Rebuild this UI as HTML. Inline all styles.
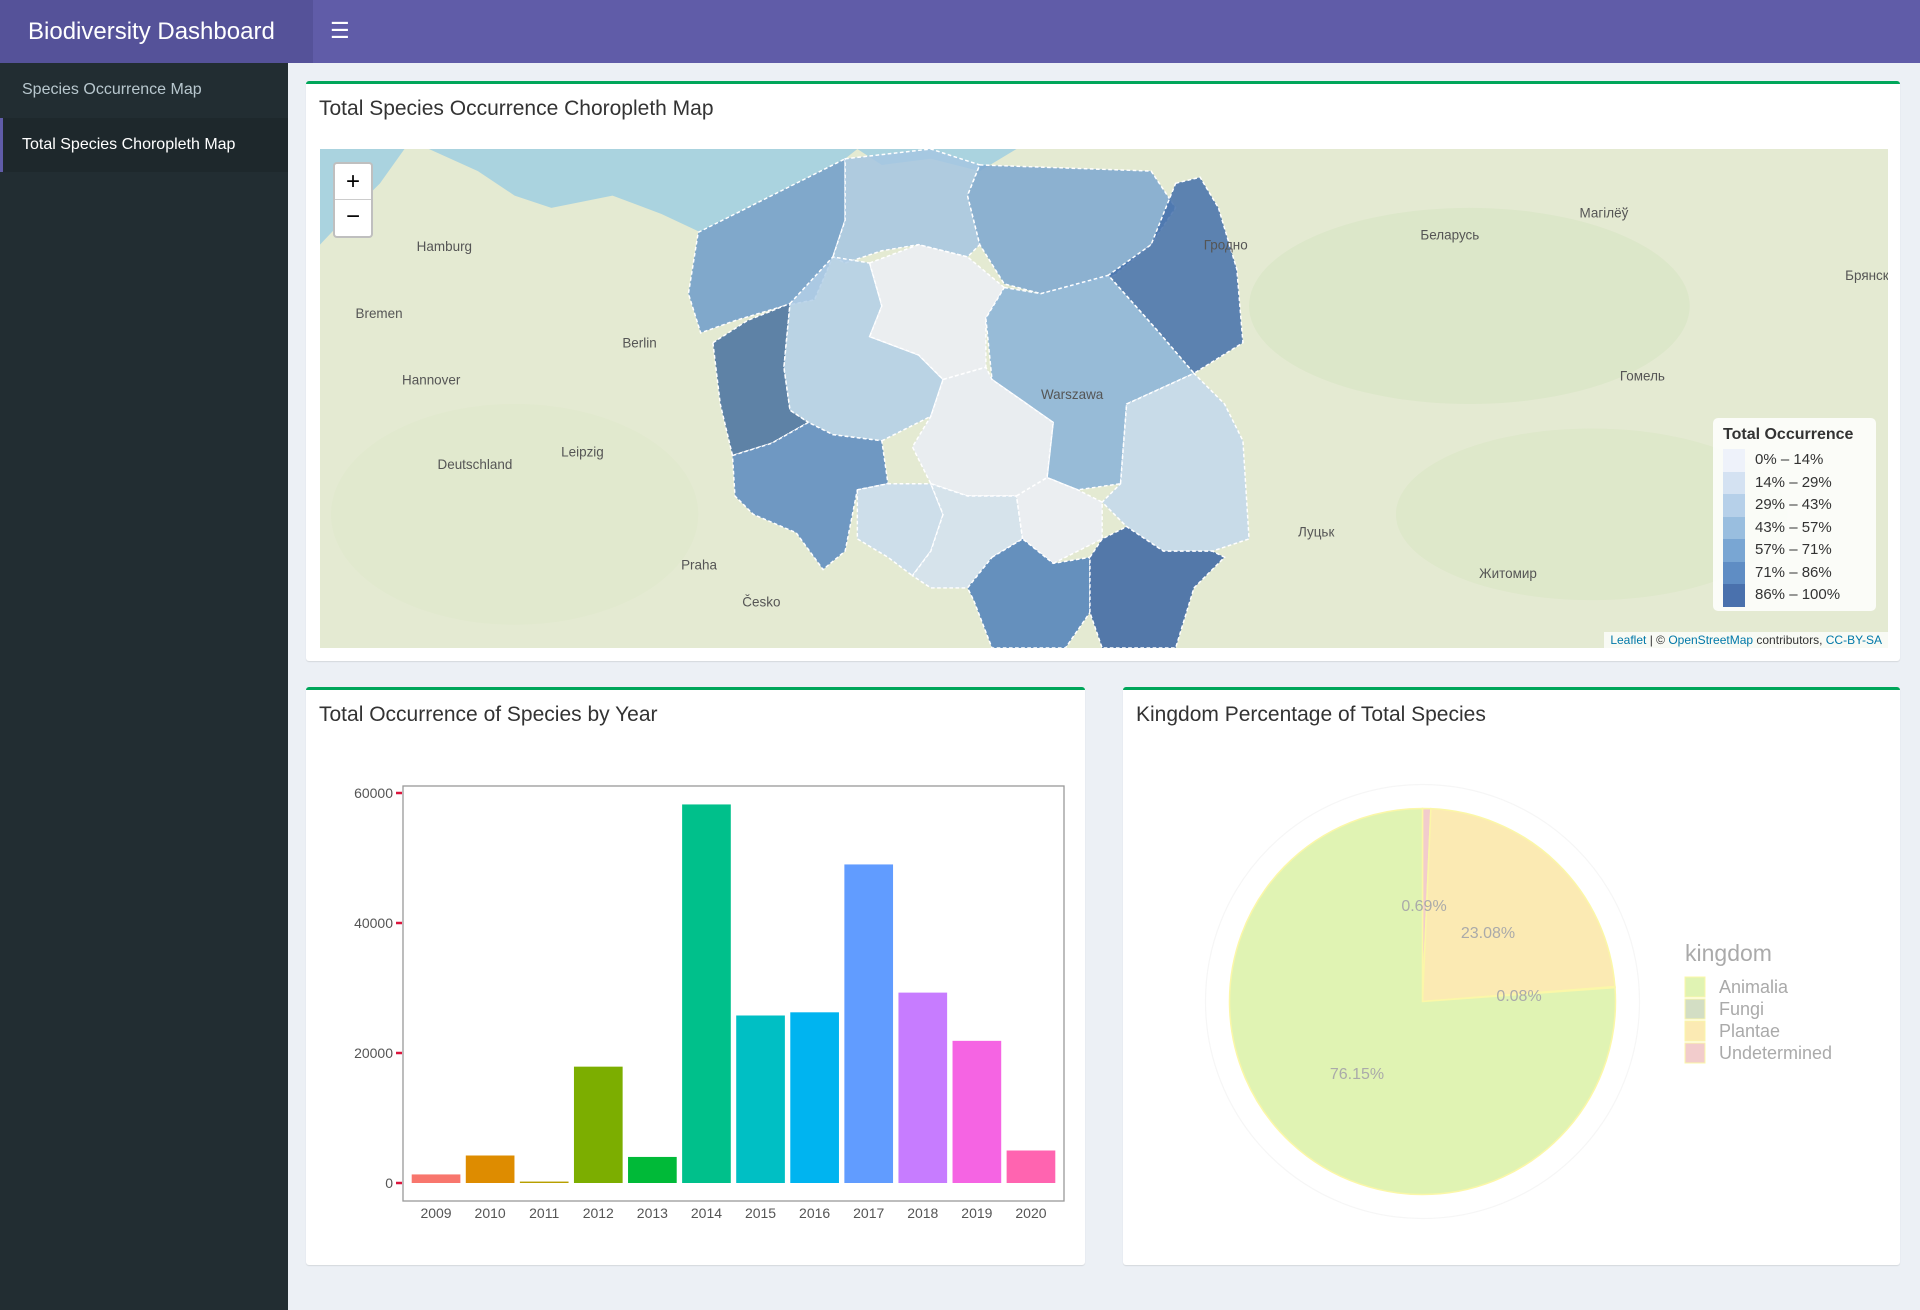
<!DOCTYPE html>
<html><head><meta charset="utf-8"><style>
*{box-sizing:border-box;margin:0;padding:0}
body{width:1920px;height:1310px;background:#ecf0f5;font-family:"Liberation Sans",sans-serif;position:relative;overflow:hidden}
.nav{position:absolute;left:0;top:0;width:1920px;height:63px;background:#605ca8}
.brand{position:absolute;left:0;top:0;width:313px;height:63px;background:#555299;color:#fff;font-size:24px;line-height:63px;padding-left:28px}
.burger{position:absolute;left:330px;top:18px;color:#fff;font-size:22px}
.side{position:absolute;left:0;top:63px;width:288px;height:1247px;background:#222d32}
.item{position:absolute;left:0;width:288px;height:54px;line-height:54px;padding-left:22px;color:#b8c7ce;font-size:16px}
.item.act{background:#1e282c;color:#fff;border-left:3px solid #605ca8;padding-left:19px}
.box{position:absolute;background:#fff;border-top:3px solid #00a65a;border-radius:3px;box-shadow:0 1px 1px rgba(0,0,0,.1)}
.box h3{position:absolute;left:13px;top:13px;font-size:21px;font-weight:normal;color:#333}
svg text{font-family:"Liberation Sans",sans-serif}
</style></head><body>
<div class="nav">
<div class="brand">Biodiversity Dashboard</div>
<div class="burger">&#9776;</div>
</div>
<div class="side">
<div class="item" style="top:0">Species Occurrence Map</div>
<div class="item act" style="top:55px">Total Species Choropleth Map</div>
</div>

<div class="box" style="left:306px;top:81px;width:1594px;height:580px">
<h3>Total Species Occurrence Choropleth Map</h3>
</div>
<div style="position:absolute;left:320px;top:149px;width:1568px;height:499px;overflow:hidden;background:#e6ebd6">
<svg width="1568" height="499" viewBox="261 122 1281 407" preserveAspectRatio="none" style="position:absolute;left:0;top:0">
<rect x="261" y="122" width="1281" height="407" fill="#e4ead2"/>
<ellipse cx="1200" cy="250" rx="180" ry="80" fill="#d9e6c4" opacity=".7"/>
<ellipse cx="420" cy="420" rx="150" ry="90" fill="#dfe8cc" opacity=".7"/>
<ellipse cx="1300" cy="420" rx="160" ry="70" fill="#dce7c6" opacity=".7"/>
<polygon points="261,122 700,122 690,130 600,175 572,190 540,175 500,160 450,170 420,160 390,140 350,122" fill="#aad3df"/>
<polygon points="261,122 330,122 310,150 280,180 261,200" fill="#aad3df"/>
<polygon points="700,122 830,122 800,140 760,130 720,135" fill="#aad3df"/>
<g stroke="#fff" stroke-width="1.2" stroke-dasharray="3,2" fill-opacity=".85">
<polygon fill="#6e9cca" points="570,190 600,175 690,130 690,180 680,210 665,245 640,250 600,262 572,272 562,240"/>
<polygon fill="#a6c5e2" points="690,130 760,122 800,135 790,160 800,200 790,210 750,200 720,205 690,215 680,210 690,180"/>
<polygon fill="#7ca7d0" points="800,135 940,140 960,170 940,200 910,225 850,240 820,232 800,200 790,160"/>
<polygon fill="#4470aa" points="960,150 980,145 995,170 1010,220 1015,280 975,305 945,270 905,225 940,200"/>
<polygon fill="#46709f" points="582,280 610,262 645,248 640,300 645,335 660,345 630,362 598,372 588,330"/>
<polygon fill="#b3cfe7" points="645,248 680,210 710,215 720,250 710,275 750,290 770,310 760,340 720,360 680,355 660,345 645,335 640,300"/>
<polygon fill="#eceff6" points="710,215 750,200 790,210 820,235 805,260 805,300 770,310 750,290 710,275 720,250"/>
<polygon fill="#8ab3d8" points="820,235 850,240 905,225 945,270 975,305 920,330 915,395 880,400 855,390 860,345 810,310 805,260"/>
<polygon fill="#eaedf6" points="770,310 805,300 810,310 860,345 855,390 830,405 790,405 760,395 745,365 760,340"/>
<polygon fill="#5a89bf" points="598,372 630,362 660,345 680,355 720,360 725,395 700,400 690,450 672,465 650,435 615,420 600,405"/>
<polygon fill="#c9dcee" points="700,400 725,395 760,395 770,420 760,450 745,470 725,455 700,440"/>
<polygon fill="#d3e2f0" points="760,395 790,405 830,405 835,440 810,455 790,480 760,480 745,470 760,450 770,420"/>
<polygon fill="#eceff7" points="830,405 855,390 880,400 900,410 900,440 860,460 835,440"/>
<polygon fill="#c3d8ec" points="915,395 920,330 975,305 1000,330 1015,360 1020,440 990,450 950,450 920,430 900,410"/>
<polygon fill="#4f80ba" points="810,455 835,440 860,460 890,455 890,500 870,529 810,529 795,490 790,480"/>
<polygon fill="#3a64a2" points="890,455 900,440 920,430 950,450 990,450 1000,455 975,480 960,529 900,529 890,500"/>
</g>
<g fill="#555" font-size="11">
<text x="340" y="205">Hamburg</text><text x="508" y="284">Berlin</text><text x="850" y="326">Warszawa</text><text x="357" y="383">Deutschland</text><text x="556" y="465">Praha</text><text x="1160" y="196">Беларусь</text><text x="1060" y="438">Луцьк</text><text x="1208" y="472">Житомир</text><text x="1323" y="311">Гомель</text><text x="1507" y="229">Брянск</text><text x="290" y="260">Bremen</text><text x="328" y="314">Hannover</text><text x="458" y="373">Leipzig</text><text x="606" y="495">Česko</text><text x="1290" y="178">Магілёў</text><text x="983" y="204">Гродно</text>
</g>
</svg>
<div style="position:absolute;left:13px;top:13px;width:40px;height:76px;background:#fff;border:2px solid rgba(0,0,0,.25);border-radius:4px">
<div style="height:36px;line-height:36px;text-align:center;font-size:24px;border-bottom:1px solid #ccc">+</div>
<div style="height:36px;line-height:34px;text-align:center;font-size:24px">−</div>
</div>
<div style="position:absolute;left:1393px;top:269px;width:163px;height:193px;background:rgba(255,255,255,.85);border-radius:5px;padding:8px 10px;color:#333">
<div style="font-weight:bold;font-size:16px;margin-bottom:5px">Total Occurrence</div>
<div id="mleg"></div>
</div>
<div style="position:absolute;right:0;bottom:0;background:rgba(255,255,255,.75);font-size:12px;padding:1px 6px;color:#333"><span style="color:#0078a8">Leaflet</span> | © <span style="color:#0078a8">OpenStreetMap</span> contributors, <span style="color:#0078a8">CC-BY-SA</span></div>
</div>

<div class="box" style="left:306px;top:687px;width:779px;height:578px">
<h3>Total Occurrence of Species by Year</h3>
</div>
<div class="box" style="left:1123px;top:687px;width:777px;height:578px">
<h3>Kingdom Percentage of Total Species</h3>
</div>
<svg id="bar" width="1920" height="1310" style="position:absolute;left:0;top:0;pointer-events:none"></svg>

<script>
const legLabels=["0% – 14%","14% – 29%","29% – 43%","43% – 57%","57% – 71%","71% – 86%","86% – 100%"];
const legColors=["#eef2fa","#d4e2f2","#b6d0e9","#99bedf","#79a6d3","#5f8dc4","#4a71ad"];
const years=["2009","2010","2011","2012","2013","2014","2015","2016","2017","2018","2019","2020"];
const counts=[1320,4230,220,17900,4010,58240,25770,26260,49010,29290,21870,5000];
const barColors=["#f8766d","#de8c00","#b79f00","#7cae00","#00ba38","#00c08b","#00bfc4","#00b4f0","#619cff","#c77cff","#f564e3","#ff64b0"];
const yTicks=[0,20000,40000,60000];
const kingdoms=["Animalia","Fungi","Plantae","Undetermined"];
const kingdomPct=[76.15,0.08,23.08,0.69];
const kingdomColors=["#e0f3b3","#d3dec4","#fbeab3","#f2cccc"];

const leg=document.getElementById('mleg');
legLabels.forEach((l,i)=>{
 const d=document.createElement('div');
 
 
 d.style.cssText='height:22.5px;line-height:22.5px;font-size:15px;display:flex;align-items:center';
 d.innerHTML='<span style="display:inline-block;width:22px;height:22.5px;background:'+legColors[i]+';margin-right:10px"></span>'+l;
 leg.appendChild(d);
});

const NS='http://www.w3.org/2000/svg';
const svg=document.getElementById('bar');
function mk(t,a,p){const e=document.createElementNS(NS,t);for(const k in a)e.setAttribute(k,a[k]);(p||svg).appendChild(e);return e;}
const fx0=403,fx1=1064,fy0=786,fy1=1201,y0px=1183,perU=(1183-793)/60000;
const Y=v=>y0px-v*perU;
const bx0=fx0+6,bx1=fx1-6;
const step=(bx1-bx0)/years.length, bw=step*0.9;
const frame=mk('rect',{x:fx0,y:fy0,width:fx1-fx0,height:fy1-fy0,fill:'none',stroke:'#999','stroke-width':1.3});


yTicks.forEach(t=>{
 const tk=mk('line',{x1:fx0-7,x2:fx0-1,y1:Y(t),y2:Y(t),stroke:'#dc143c','stroke-width':2.5});
 
 
 const tl=mk('text',{x:fx0-10,y:Y(t)+5,'text-anchor':'end','font-size':14,fill:'#555'});
 tl.textContent=t;
 
 
});
years.forEach((yr,i)=>{
 const cx=bx0+step*(i+0.5);
 const b=mk('rect',{x:cx-bw/2,y:Y(counts[i]),width:bw,height:Math.max(1,Y(0)-Y(counts[i])),fill:barColors[i]});
 
 
 const l=mk('text',{x:cx,y:fy1+17,'text-anchor':'middle','font-size':14,fill:'#555'});
 l.textContent=yr;
 
 
});
const pcx=1422.5,pcy=1001.5,rx=193,ry=193;
const og=mk('circle',{cx:pcx,cy:pcy,r:217,fill:'none',stroke:'#f6f6f6','stroke-width':1.2});


const order=[3,2,1,0];
let acc=0;
const pt=(f,s)=>{const a=f*2*Math.PI;return [pcx+s*rx*Math.sin(a),pcy-s*ry*Math.cos(a)];};
const tot=kingdomPct.reduce((a,b)=>a+b,0);
order.forEach(k=>{
 const f0=acc/tot,f1=(acc+kingdomPct[k])/tot;acc+=kingdomPct[k];
 const p0=pt(f0,1),p1=pt(f1,1);
 const large=(f1-f0)>0.5?1:0;
 const s=mk('path',{d:`M${pcx},${pcy} L${p0[0]},${p0[1]} A${rx},${ry} 0 ${large} 1 ${p1[0]},${p1[1]} Z`,fill:kingdomColors[k],stroke:'#fbf7a8','stroke-width':1.5});
 
 
});
const labPos=[[1357,1079],[1519,1001],[1488,938],[1424,911]];
kingdoms.forEach((k,i)=>{
 const t=mk('text',{x:labPos[i][0],y:labPos[i][1],'text-anchor':'middle','font-size':16,fill:'#aaa'});
 t.textContent=kingdomPct[i].toFixed(2)+'%';
 
 
});
const lt=mk('text',{x:1685,y:961,'font-size':23,fill:'#aaa'});
lt.textContent='kingdom';


kingdoms.forEach((k,i)=>{
 const y=977+i*22;
 const r=mk('rect',{x:1685,y:y,width:20,height:20,fill:kingdomColors[i],stroke:'#fbf7a8'});
 
 
 const t=mk('text',{x:1719,y:y+16,'font-size':18,fill:'#aaa'});
 t.textContent=k;
 
 
});
</script>
</body></html>
